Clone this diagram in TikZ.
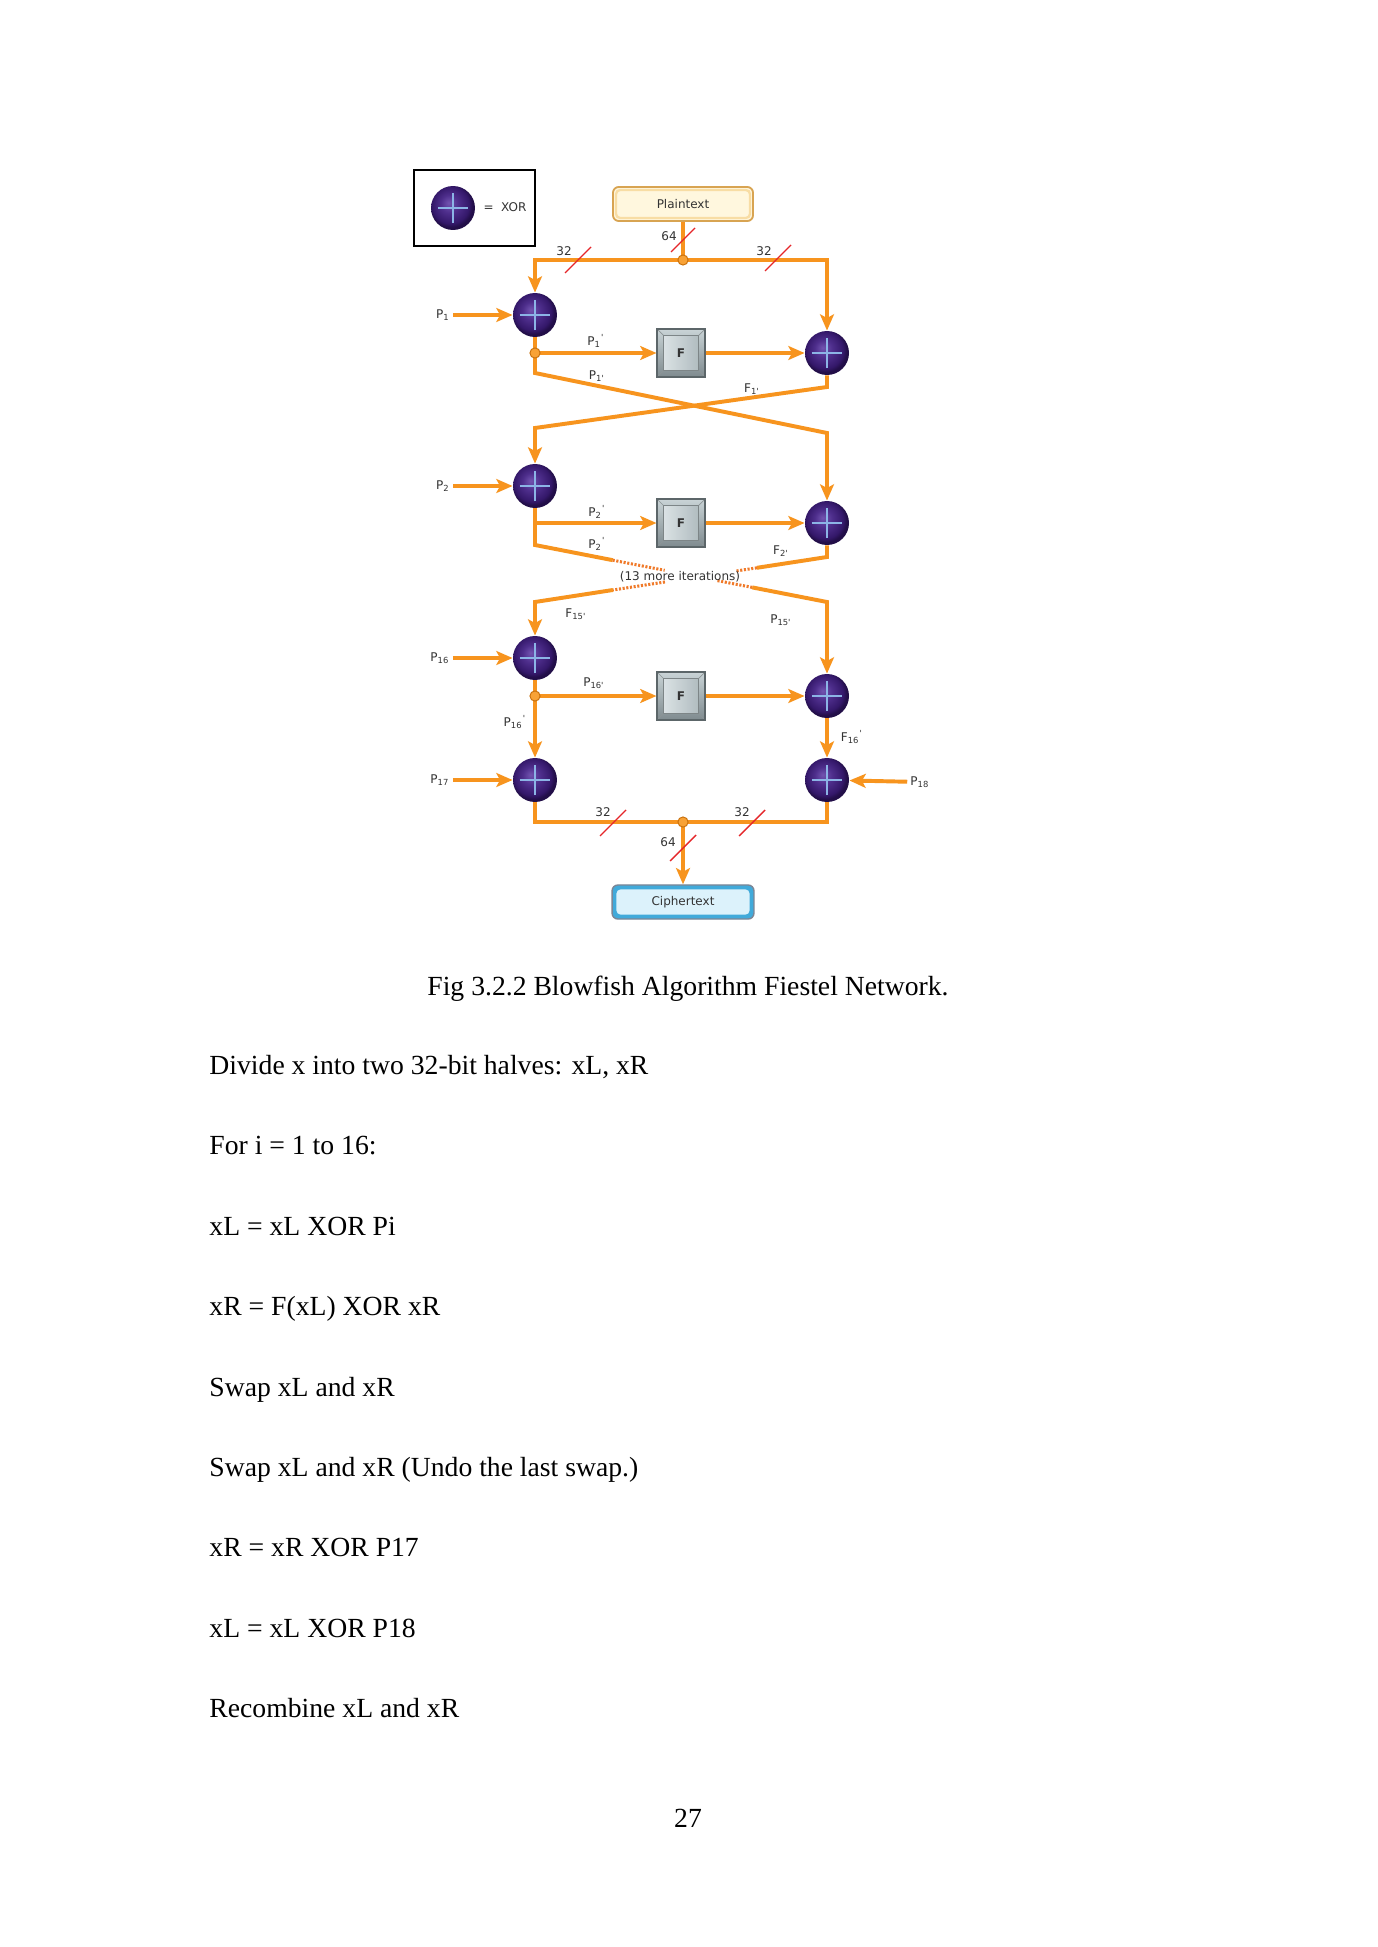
\documentclass[tikz,border=0pt]{standalone}
\usepackage{fontspec}
\setmainfont{Liberation Serif}
\newfontfamily\lblfont{DejaVu Sans}
\usetikzlibrary{arrows.meta,calc}
\definecolor{orng}{HTML}{F7941E}
\definecolor{dotorng}{HTML}{F07A2A}
\definecolor{jfill}{HTML}{F8A236}
\definecolor{jdraw}{HTML}{C8700C}
\definecolor{xhi}{HTML}{7254B0}
\definecolor{xmid}{HTML}{4E2E8C}
\definecolor{xdark}{HTML}{34186A}
\definecolor{xedge}{HTML}{220E48}
\definecolor{xcross}{HTML}{8CB4E6}
\definecolor{fdark}{HTML}{5C6669}
\definecolor{fbevhi}{HTML}{C9D3D6}
\definecolor{fbevlo}{HTML}{7F8B8F}
\definecolor{ffacehi}{HTML}{E2E9EB}
\definecolor{ffacelo}{HTML}{A9B5B9}
\definecolor{ptborder}{HTML}{D8A452}
\definecolor{ptinner}{HTML}{F8DDA4}
\definecolor{ptfill}{HTML}{FFF7DE}
\definecolor{cbouter}{HTML}{7C8696}
\definecolor{cbband}{HTML}{41AADA}
\definecolor{cbfill}{HTML}{DCF2FB}
\definecolor{lblgray}{HTML}{333333}
\definecolor{slashred}{HTML}{E5262A}
\pgfdeclareradialshading{xorball}{\pgfpoint{-5bp}{6bp}}{color(0bp)=(xhi); color(10bp)=(xmid); color(21bp)=(xdark); color(25bp)=(xedge); color(50bp)=(xedge)}
\tikzset{
  wire/.style={draw=orng, line width=1.7bp},
  arr/.style={-{Stealth[length=7bp,width=6bp,inset=1.6bp]}},
  dots/.style={draw=dotorng, line width=1.3bp, dash pattern=on 0.9bp off 0.7bp},
  slash/.style={draw=slashred, line width=0.6bp},
  xor/.style={circle, minimum size=19bp, inner sep=0pt, shade, shading=xorball,
    path picture={\draw[draw=xcross, line width=1bp]
      ([xshift=-6.5bp]path picture bounding box.center) -- ([xshift=6.5bp]path picture bounding box.center)
      ([yshift=-6.5bp]path picture bounding box.center) -- ([yshift=6.5bp]path picture bounding box.center);}},
  fbox/.style={rectangle, minimum size=20.7bp, inner sep=0pt, draw=fdark, line width=0.5bp,
    top color=fbevhi, bottom color=fbevlo, text=black!80,
    font=\lblfont\bfseries\fontsize{5.2}{6}\selectfont,
    path picture={
      \shade[left color=ffacehi, right color=ffacelo, draw=fdark!80, line width=0.4bp]
        ([shift={(2.7bp,2.7bp)}]path picture bounding box.south west) rectangle
        ([shift={(-2.7bp,-2.7bp)}]path picture bounding box.north east);
      \draw[fdark!70, line width=0.3bp]
        (path picture bounding box.south west) -- ([shift={(2.7bp,2.7bp)}]path picture bounding box.south west)
        (path picture bounding box.north east) -- ([shift={(-2.7bp,-2.7bp)}]path picture bounding box.north east)
        (path picture bounding box.north west) -- ([shift={(2.7bp,-2.7bp)}]path picture bounding box.north west)
        (path picture bounding box.south east) -- ([shift={(-2.7bp,2.7bp)}]path picture bounding box.south east);}},
  ptbox/.style={rectangle, rounded corners=2.5bp, minimum width=60.5bp, minimum height=14.7bp,
    draw=ptborder, line width=0.8bp, fill=ptfill, text=lblgray,
    font=\lblfont\fontsize{5.2}{6}\selectfont,
    path picture={\draw[ptinner, line width=1bp, rounded corners=1.8bp]
      ([shift={(1.3bp,1.3bp)}]path picture bounding box.south west) rectangle
      ([shift={(-1.3bp,-1.3bp)}]path picture bounding box.north east);}},
  cbox/.style={rectangle, rounded corners=2.5bp, minimum width=61.3bp, minimum height=14.7bp,
    draw=cbouter, line width=0.6bp, fill=cbband, text=lblgray,
    font=\lblfont\fontsize{5.2}{6}\selectfont,
    path picture={\fill[cbfill, rounded corners=1.8bp]
      ([shift={(1.9bp,1.9bp)}]path picture bounding box.south west) rectangle
      ([shift={(-1.9bp,-1.9bp)}]path picture bounding box.north east);}},
  legendbox/.style={rectangle, draw=black, line width=0.9bp, minimum width=52.3bp, minimum height=32.8bp, inner sep=0pt},
  lbl/.style={font=\lblfont\fontsize{5.2}{6}\selectfont, text=lblgray, inner sep=1.2bp},
  body/.style={font=\fontsize{12}{14}\selectfont, inner sep=0pt, text=black},
}
\begin{document}
\begin{tikzpicture}[x=0.432bp, y=-0.432bp]
\useasboundingbox[fill=white] (0,0) rectangle (1377,1947);

% legend
\node[legendbox] (leg) at (474.5,208) {};
\node[xor] (legx) at (453,208) {};
\node[lbl] (legt) at (505,207) {=\ \ XOR};

% boxes
\node[ptbox] (plain) at (683,204) {Plaintext};
\node[cbox] (cipher) at (683,902) {Ciphertext};

% xor nodes
\node[xor] (l1) at (535,315) {};
\node[xor] (r1) at (827,353) {};
\node[xor] (l2) at (535,486) {};
\node[xor] (r2) at (827,523) {};
\node[xor] (l16) at (535,658) {};
\node[xor] (r16) at (827,696) {};
\node[xor] (l17) at (535,780) {};
\node[xor] (r18) at (827,780) {};

% F boxes
\node[fbox] (f1) at (681,353) {F};
\node[fbox] (f2) at (681,523) {F};
\node[fbox] (f3) at (681,696) {F};

% input labels
\node[lbl] (p1) at (443,315) {P\textsubscript{1}};
\node[lbl] (p2) at (443,486) {P\textsubscript{2}};
\node[lbl] (p16) at (440,658) {P\textsubscript{16}};
\node[lbl] (p17) at (440,780) {P\textsubscript{17}};
\node[lbl] (p18) at (920,782) {P\textsubscript{18}};

% junction coordinates
\coordinate (j0) at (683,260);
\coordinate (j1) at (535,353);
\coordinate (j2) at (535,523);
\coordinate (j3) at (535,696);
\coordinate (j4) at (683,822);

% top split
\draw[wire] (plain) -- (j0);
\draw[wire,arr] (j0) -| (l1);
\draw[wire,arr] (j0) -| (r1);

% round 1
\draw[wire,arr] (p1) -- (l1);
\draw[wire] (l1) -- (j1);
\draw[wire,arr] (j1) -- (f1);
\draw[wire,arr] (f1) -- (r1);
\coordinate (a1) at (535,373);
\coordinate (a2) at (827,433);
\coordinate (b1) at (827,387);
\coordinate (b2) at (535,428);
\draw[wire,arr] (j1) -- (a1) -- (a2) -- (r2);
\draw[wire,arr] (r1) -- (b1) -- (b2) -- (l2);

% round 2
\draw[wire,arr] (p2) -- (l2);
\draw[wire] (l2) -- (j2);
\draw[wire,arr] (j2) -- (f2);
\draw[wire,arr] (f2) -- (r2);
\coordinate (c1) at (535,545);
\coordinate (cA) at (827,602);
\coordinate (d1) at (827,557);
\coordinate (dB) at (535,602);
\draw[wire] (j2) -- (c1) -- ($(c1)!0.266!(cA)$);
\draw[dots] ($(c1)!0.266!(cA)$) -- ($(c1)!0.444!(cA)$);
\draw[dots] ($(c1)!0.625!(cA)$) -- ($(c1)!0.744!(cA)$);
\draw[wire,arr] ($(c1)!0.744!(cA)$) -- (cA) -- (r16);
\draw[wire] (r2) -- (d1) -- ($(d1)!0.24!(dB)$);
\draw[dots] ($(d1)!0.24!(dB)$) -- ($(d1)!0.315!(dB)$);
\draw[dots] ($(d1)!0.555!(dB)$) -- ($(d1)!0.733!(dB)$);
\draw[wire,arr] ($(d1)!0.733!(dB)$) -- (dB) -- (l16);
\node[lbl] (more) at (680,577) {(13 more iterations)};

% round 16
\draw[wire,arr] (p16) -- (l16);
\draw[wire] (l16) -- (j3);
\draw[wire,arr] (j3) -- (f3);
\draw[wire,arr] (f3) -- (r16);
\draw[wire,arr] (j3) -- (l17);
\draw[wire,arr] (r16) -- (r18);
\draw[wire,arr] (p17) -- (l17);
\draw[wire,arr] (p18) -- (r18);

% output
\draw[wire] (l17) |- (j4);
\draw[wire] (r18) |- (j4);
\draw[wire,arr] (j4) -- (cipher);

% junction dots
\foreach \j in {j0,j1,j3,j4}
  \filldraw[fill=jfill, draw=jdraw, line width=0.4bp] (\j) circle (2.2bp);

% bus width slashes
\draw[slash] (565,273) -- (591,247);
\draw[slash] (765,271) -- (791,245);
\draw[slash] (671,252) -- (695,228);
\draw[slash] (600,836) -- (626,810);
\draw[slash] (739,836) -- (765,810);
\draw[slash] (670,861) -- (696,835);
\node[lbl] (w1) at (564,251) {32};
\node[lbl] (w2) at (764,251) {32};
\node[lbl] (w3) at (669,236) {64};
\node[lbl] (w4) at (603,812) {32};
\node[lbl] (w5) at (742,812) {32};
\node[lbl] (w6) at (668,842) {64};

% wire labels
\node[lbl] (q1) at (596,341) {P\textsubscript{1}\textsuperscript{'}};
\node[lbl] (q2) at (597,376) {P\textsubscript{1'}};
\node[lbl] (q3) at (752,389) {F\textsubscript{1'}};
\node[lbl] (q4) at (597,512) {P\textsubscript{2}\textsuperscript{'}};
\node[lbl] (q5) at (597,544) {P\textsubscript{2}\textsuperscript{'}};
\node[lbl] (q6) at (781,551) {F\textsubscript{2'}};
\node[lbl] (q7) at (576,614) {F\textsubscript{15'}};
\node[lbl] (q8) at (781,620) {P\textsubscript{15'}};
\node[lbl] (q9) at (594,683) {P\textsubscript{16'}};
\node[lbl] (q10) at (515,722) {P\textsubscript{16}\textsuperscript{'}};
\node[lbl] (q11) at (852,737) {F\textsubscript{16}\textsuperscript{'}};

% page text
\node[body, anchor=base] (cap) at (688,995) {Fig 3.2.2 Blowfish Algorithm Fiestel Network.};
\node[body, anchor=base west] (t1) at (209,1074) {Divide x into two 32-bit halves: xL, xR};
\node[body, anchor=base west] (t2) at (209,1154) {For i = 1 to 16:};
\node[body, anchor=base west] (t3) at (209,1235) {xL = xL XOR Pi};
\node[body, anchor=base west] (t4) at (209,1315) {xR = F(xL) XOR xR};
\node[body, anchor=base west] (t5) at (209,1396) {Swap xL and xR};
\node[body, anchor=base west] (t6) at (209,1476) {Swap xL and xR (Undo the last swap.)};
\node[body, anchor=base west] (t7) at (209,1556) {xR = xR XOR P17};
\node[body, anchor=base west] (t8) at (209,1637) {xL = xL XOR P18};
\node[body, anchor=base west] (t9) at (209,1717) {Recombine xL and xR};
\node[body, anchor=base] (pg) at (688,1827) {27};
\end{tikzpicture}
\end{document}
